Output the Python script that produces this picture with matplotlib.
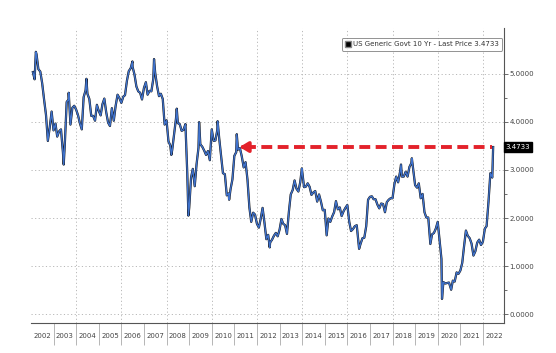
import numpy as np
import pandas as pd
import matplotlib
matplotlib.use('Agg')
import matplotlib.pyplot as plt
from matplotlib.lines import Line2D

# US 10Y generic yield, month-end values (Jan 2002 .. May 2022)
month_close = [
    5.03, 4.88, 5.40, 5.09, 5.04, 4.80, 4.46, 4.14, 3.60, 3.89, 4.21, 3.82,  # 2002
    3.96, 3.69, 3.80, 3.84, 3.37, 3.51, 4.41, 4.46, 3.94, 4.29, 4.33, 4.25,  # 2003
    4.13, 3.97, 3.84, 4.51, 4.65, 4.58, 4.47, 4.12, 4.12, 4.02, 4.35, 4.22,  # 2004
    4.13, 4.36, 4.48, 4.20, 3.98, 3.91, 4.28, 4.02, 4.33, 4.56, 4.49, 4.39,  # 2005
    4.52, 4.55, 4.85, 5.05, 5.11, 5.14, 4.98, 4.73, 4.63, 4.60, 4.46, 4.70,  # 2006
    4.82, 4.56, 4.64, 4.63, 4.89, 5.02, 4.74, 4.53, 4.58, 4.47, 3.94, 4.03,  # 2007
    3.59, 3.51, 3.41, 3.73, 4.06, 3.97, 3.95, 3.81, 3.83, 3.95, 2.92, 2.21,  # 2008
    2.84, 3.02, 2.66, 3.12, 3.46, 3.53, 3.48, 3.40, 3.31, 3.39, 3.20, 3.84,  # 2009
    3.60, 3.61, 3.83, 3.66, 3.29, 2.93, 2.91, 2.47, 2.51, 2.60, 2.80, 3.29,  # 2010
    3.37, 3.42, 3.45, 3.28, 3.05, 3.16, 2.80, 2.22, 1.92, 2.11, 2.07, 1.88,  # 2011
    1.80, 1.98, 2.21, 1.91, 1.56, 1.65, 1.49, 1.55, 1.63, 1.69, 1.62, 1.76,  # 2012
    1.98, 1.88, 1.85, 1.67, 2.13, 2.49, 2.58, 2.78, 2.61, 2.55, 2.74, 2.98,  # 2013
    2.64, 2.65, 2.72, 2.65, 2.48, 2.53, 2.56, 2.34, 2.49, 2.34, 2.16, 2.17,  # 2014
    1.64, 1.99, 1.92, 2.03, 2.12, 2.35, 2.18, 2.22, 2.04, 2.14, 2.21, 2.27,  # 2015
    1.92, 1.73, 1.77, 1.83, 1.85, 1.47, 1.46, 1.58, 1.59, 1.83, 2.38, 2.44,  # 2016
    2.45, 2.39, 2.39, 2.28, 2.20, 2.30, 2.29, 2.12, 2.33, 2.38, 2.41, 2.41,  # 2017
    2.71, 2.86, 2.74, 2.95, 2.86, 2.86, 2.96, 2.86, 3.06, 3.14, 3.01, 2.68,  # 2018
    2.63, 2.72, 2.41, 2.50, 2.12, 2.01, 2.01, 1.50, 1.66, 1.69, 1.78, 1.92,  # 2019
    1.51, 1.15, 0.67, 0.64, 0.65, 0.66, 0.53, 0.70, 0.68, 0.87, 0.84, 0.91,  # 2020
    1.07, 1.40, 1.74, 1.63, 1.58, 1.47, 1.22, 1.31, 1.49, 1.55, 1.44, 1.51,  # 2021
    1.78, 1.83, 2.34, 2.93, 2.84,                                            # 2022
]
month_dates = pd.date_range('2002-01-31', periods=len(month_close), freq='ME')

# intra-month highs / lows visible on the chart
extreme_dates = ['2002-03-20', '2003-06-13', '2003-09-02', '2004-06-14', '2006-06-28',
                 '2007-06-12', '2008-03-17', '2008-06-13', '2008-12-18', '2009-06-10',
                 '2010-04-05', '2010-10-08', '2011-02-08', '2012-07-24', '2013-12-27',
                 '2016-07-08', '2018-05-17', '2018-11-08', '2019-09-03', '2020-03-09',
                 '2020-08-04', '2022-06-14']
extreme_vals = [5.45, 3.11, 4.60, 4.89, 5.25,
                5.30, 3.31, 4.27, 2.05, 3.99,
                4.01, 2.38, 3.74, 1.39, 3.03,
                1.36, 3.11, 3.24, 1.46, 0.32,
                0.51, 3.4733]

last_price = 3.4733
arrow_from = 2022.42
arrow_to = 2011.1
years = list(range(2002, 2023))
ytick_vals = [0, 1, 2, 3, 4, 5]


def to_year(d):
    d = pd.to_datetime(d)
    return d.year + (d.dayofyear - 1) / 365.25


s = pd.Series(list(month_close) + extreme_vals,
              index=list(month_dates) + list(pd.to_datetime(extreme_dates))).sort_index()
xs = np.array([to_year(d) for d in s.index])
ys = s.values

fig = plt.figure(figsize=(5.56, 3.53), dpi=100)
ax = fig.add_axes([0.0558, 0.085, 0.8507, 0.835])

ax.plot(xs, ys, color='#111111', lw=1.6, solid_joinstyle='round')
ax.plot(xs, ys, color='#3f72cc', lw=1.0)

ax.set_xlim(2002.0, 2022.93)
ax.set_ylim(-0.18, 5.94)

# red dashed arrow
ax.plot([arrow_to + 0.35, arrow_from], [last_price, last_price], color='#e3222b', lw=2.8,
        dashes=(2.8, 1.4))
ax.annotate('', xy=(arrow_to, last_price), xytext=(arrow_to + 0.5, last_price),
            arrowprops=dict(arrowstyle='-|>,head_length=0.5,head_width=0.3',
                            color='#e3222b', lw=2.6))

# grid
for v in ytick_vals:
    ax.axhline(v, color='#b8b8b8', lw=0.7, ls=(0, (1.2, 2.5)), zorder=0)
for yr in years:
    if yr % 2 == 0 and yr > 2002:
        ax.axvline(yr, color='#b8b8b8', lw=0.7, ls=(0, (1.2, 2.5)), zorder=0)

for side in ['top', 'left']:
    ax.spines[side].set_visible(False)
ax.spines['right'].set_color('#555555')
ax.spines['bottom'].set_color('#555555')
ax.spines['right'].set_linewidth(0.8)
ax.spines['bottom'].set_linewidth(0.8)

# y axis on the right
ax.yaxis.tick_right()
ax.set_yticks(ytick_vals)
ax.set_yticklabels(['%.4f' % v for v in ytick_vals])
ax.set_yticks([0.5, 1.5, 2.5, 3.5, 4.5], minor=True)
ax.tick_params(axis='y', which='major', direction='out', length=3, width=0.6,
               colors='#555555', labelsize=5, labelcolor='#444444', pad=1)
ax.tick_params(axis='y', which='minor', direction='out', length=2, width=0.6,
               colors='#555555')

# x axis: year boundaries as long ticks, labels centred in each year
ax.set_xticks(years[1:])
ax.set_xticklabels([])
ax.set_xticks([y + 0.5 for y in years], minor=True)
ax.set_xticklabels([str(y) for y in years], minor=True)
ax.tick_params(axis='x', which='major', direction='out', length=16, width=0.6, colors='#aaaaaa')
ax.tick_params(axis='x', which='minor', length=0, labelsize=5, labelcolor='#444444', pad=7)

# last price tag
ax.text(1.004, (last_price + 0.18) / 6.12, '%.4f' % last_price, transform=ax.transAxes,
        fontsize=5, color='white', va='center', ha='left',
        bbox=dict(boxstyle='square,pad=0.25', fc='black', ec='black'))

# legend
h = Line2D([], [], color='black', marker='s', markersize=4, ls='none',
           markeredgecolor='#888888')
leg = ax.legend([h], ['US Generic Govt 10 Yr - Last Price %.4f' % last_price],
                loc='upper right', bbox_to_anchor=(0.996, 0.968), fontsize=5,
                frameon=True, fancybox=True, edgecolor='#777777', handlelength=0.8,
                handletextpad=0.3, borderpad=0.5, borderaxespad=0)
leg.get_frame().set_linewidth(0.7)
for t in leg.get_texts():
    t.set_color('#333333')

plt.savefig('out.png', dpi=100)
